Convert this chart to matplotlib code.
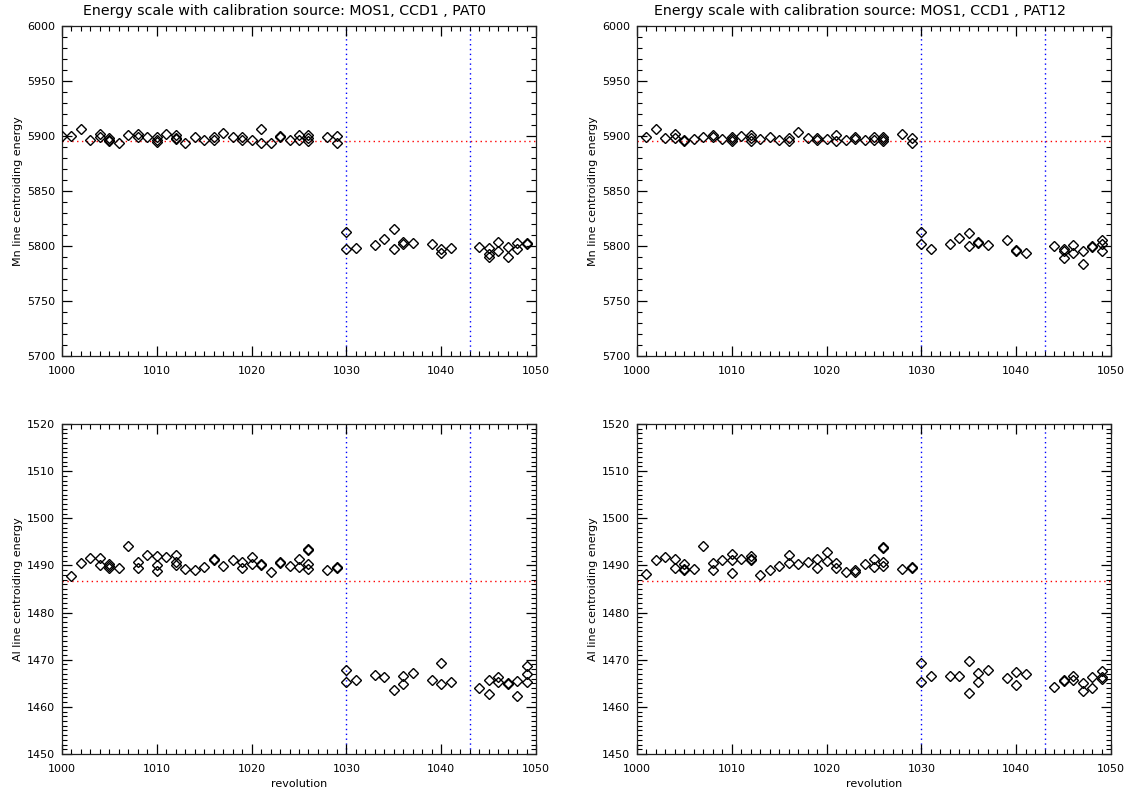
import numpy as np
import matplotlib
matplotlib.use("Agg")
import matplotlib.pyplot as plt
from matplotlib.ticker import MultipleLocator

# revolutions with a calibration measurement
revs = [1000, 1001, 1002, 1003, 1004, 1005, 1006, 1007, 1008, 1009,
        1010, 1011, 1012, 1013, 1014, 1015, 1016, 1017, 1018, 1019,
        1020, 1021, 1022, 1023, 1024, 1025, 1026, 1028, 1029,
        1030, 1031, 1033, 1034, 1035, 1036, 1037, 1039, 1040, 1041,
        1044, 1045, 1046, 1047, 1048, 1049]

# Mn line centroids, PAT0 (one list per revolution)
mn_pat0 = [[5900], [5900], [5906], [5896], [5902, 5899], [5898, 5896, 5895],
           [5894], [5901], [5901.5, 5899.5], [5899], [5899, 5896, 5894.5],
           [5902], [5901, 5898.5, 5897], [5894], [5899], [5896], [5899, 5896],
           [5903], [5899], [5899, 5896], [5896], [5906, 5894], [5894],
           [5900, 5899], [5896], [5901, 5896], [5901, 5898, 5895.5], [5899],
           [5900, 5894],
           [5813, 5797], [5798], [5801], [5806], [5815, 5797], [5804, 5802],
           [5803], [5801.5], [5797, 5794], [5798], [5799],
           [5798.5, 5793, 5790], [5804, 5795], [5799, 5790], [5803, 5797.5],
           [5802, 5802.5]]

# Mn line centroids, PAT12
mn_pat12 = [[], [5899], [5906], [5898], [5902, 5898], [5896, 5895], [5897],
            [5899], [5901, 5899], [5897], [5899, 5897, 5895], [5900],
            [5901, 5898, 5895], [5897], [5899], [5896], [5898, 5895], [5904],
            [5898], [5898, 5896], [5897], [5901, 5895], [5896], [5899, 5897],
            [5896], [5899, 5896], [5899, 5897, 5895], [5902], [5898, 5894],
            [5812.5, 5802], [5797], [5801.5], [5807], [5811.5, 5800],
            [5804, 5803], [5801], [5805], [5796, 5795], [5794], [5800],
            [5797.5, 5795.5, 5789], [5800.5, 5794], [5795, 5784],
            [5799.5, 5799.8], [5805, 5802, 5795]]

# Al line centroids, PAT0
al_pat0 = [[], [1487.8], [1490.6], [1491.6], [1491.6, 1490.1],
           [1490.3, 1489.9, 1489.4], [1489.4], [1494.1], [1490.7, 1489.4],
           [1492.3], [1492.1, 1490.0, 1488.8], [1491.7],
           [1492.3, 1490.7, 1490.0], [1489.2], [1489.1], [1489.7],
           [1491.4, 1491.2], [1489.9], [1491.1], [1490.7, 1489.5],
           [1491.8, 1490.2], [1490.2, 1490.0], [1488.6], [1490.5, 1490.7],
           [1489.9], [1491.4, 1489.7], [1493.5, 1493.2, 1490.3, 1489.2],
           [1489.0], [1489.5, 1489.7],
           [1467.9, 1465.3], [1465.8], [1466.8], [1466.4], [1463.6],
           [1466.6, 1464.8], [1467.2], [1465.8], [1469.3, 1464.8], [1465.3],
           [1464.1], [1465.6, 1462.7], [1466.3, 1465.3], [1464.8, 1465.0],
           [1465.5, 1462.2], [1468.7, 1467.0, 1465.3]]

# Al line centroids, PAT12
al_pat12 = [[], [1488.1], [1491.1], [1491.8], [1491.4, 1489.5],
            [1490.3, 1489.2, 1489.0], [1489.2], [1494.1], [1490.6, 1489.0],
            [1491.1], [1492.4, 1491.1, 1488.5], [1491.3],
            [1491.9, 1491.4, 1491.2], [1488.0], [1489.1], [1489.8],
            [1492.2, 1490.5], [1490.4], [1490.7], [1491.3, 1489.5],
            [1492.9, 1490.9], [1490.5, 1489.5], [1488.7], [1489.1, 1488.7],
            [1490.3], [1491.4, 1489.6], [1493.9, 1493.6, 1490.8, 1489.9],
            [1489.2], [1489.6, 1489.4],
            [1469.3, 1465.2], [1466.5], [1466.6], [1466.6], [1469.8, 1463.0],
            [1467.1, 1465.2], [1467.8], [1466.2], [1467.5, 1464.6], [1466.9],
            [1464.2], [1465.8, 1465.5], [1466.6, 1465.6], [1465.1, 1463.3],
            [1466.3, 1463.9], [1467.6, 1466.4, 1466.0]]

mn_nominal = 5895.7
al_nominal = 1486.6
rev_markers = [1030, 1043]


def flatten(revolutions, groups):
    x, y = [], []
    for r, vals in zip(revolutions, groups):
        for v in vals:
            x.append(r)
            y.append(v)
    return np.array(x), np.array(y)


fig = plt.figure(figsize=(11.31, 7.92), dpi=100)
W, H = 1131.0, 792.0

panels = [
    # (left px, top px, data, ylim, y major, y minor, ylabel, nominal, title)
    (62, 26, mn_pat0, (5700, 6000), 50, 10, "Mn line centroiding energy", mn_nominal,
     "Energy scale with calibration source: MOS1, CCD1 , PAT0"),
    (637, 26, mn_pat12, (5700, 6000), 50, 10, "Mn line centroiding energy", mn_nominal,
     "Energy scale with calibration source: MOS1, CCD1 , PAT12"),
    (62, 424, al_pat0, (1450, 1520), 10, 1, "Al line centroiding energy", al_nominal, None),
    (637, 424, al_pat12, (1450, 1520), 10, 1, "Al line centroiding energy", al_nominal, None),
]

for i, (lx, ty, groups, ylim, ymaj, ymin, ylab, nominal, title) in enumerate(panels):
    ax = fig.add_axes([lx / W, 1 - (ty + 330) / H, 474 / W, 330 / H])
    x, y = flatten(revs, groups)

    ax.axhline(nominal, color="red", lw=1.0, ls=(0, (1, 2.5)), zorder=1)
    for r in rev_markers:
        ax.axvline(r, color="blue", lw=1.0, ls=(0, (1, 2.5)), zorder=1)

    ax.plot(x, y, ls="none", marker="D", ms=5.0, mfc="none", mec="black",
            mew=1.0, zorder=3)

    ax.set_xlim(1000, 1050)
    ax.set_ylim(*ylim)
    ax.xaxis.set_major_locator(MultipleLocator(10))
    ax.xaxis.set_minor_locator(MultipleLocator(1))
    ax.yaxis.set_major_locator(MultipleLocator(ymaj))
    ax.yaxis.set_minor_locator(MultipleLocator(ymin))
    ax.tick_params(which="both", direction="in", top=True, right=True,
                   labelsize=8, colors="black")
    ax.tick_params(axis="x", pad=7)
    ax.tick_params(axis="y", pad=5)
    ax.tick_params(which="major", length=7, width=0.9)
    ax.tick_params(which="minor", length=3.5, width=0.8)
    for s in ax.spines.values():
        s.set_linewidth(0.9)
        s.set_color("#222222")

    ax.set_ylabel(ylab, fontsize=8, labelpad=3)
    if title:
        ax.set_title(title, fontsize=10.2, pad=8, x=0.47)
    if i >= 2:
        ax.set_xlabel("revolution", fontsize=8, labelpad=4)

fig.savefig("out.png", dpi=100)
